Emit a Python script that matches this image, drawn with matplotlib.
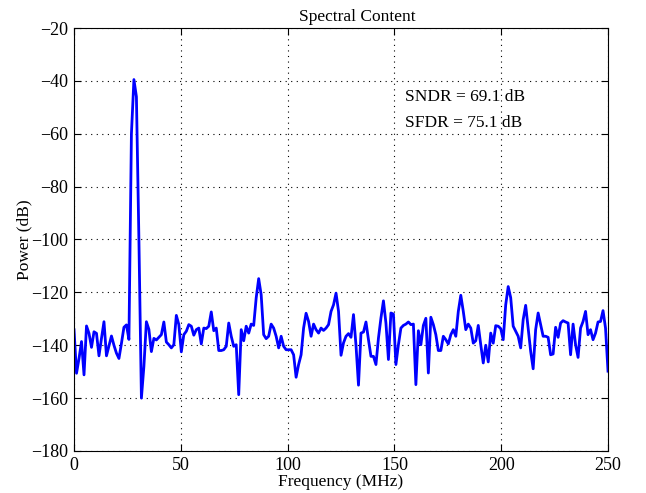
import numpy as np
import matplotlib
matplotlib.use("Agg")
import matplotlib.pyplot as plt

# spectrum, 215 bins from 0 to 250 MHz
power_db = [
    -134.2, -150.6, -145.0, -138.6, -151.2, -132.7, -135.5, -140.8, -134.9, -135.5,
    -144.0, -137.4, -131.1, -144.0, -140.3, -136.5, -140.0, -143.0, -145.0, -139.3,
    -133.2, -132.3, -137.8, -60.0, -39.5, -46.0, -100.0, -160.0, -148.0, -131.1,
    -134.0, -142.4, -137.4, -138.0, -137.0, -136.0, -131.2, -138.8, -139.8, -141.0,
    -139.8, -128.7, -132.2, -142.5, -136.0, -134.7, -132.2, -132.8, -136.2, -134.1,
    -133.5, -139.5, -133.5, -133.7, -132.8, -127.4, -134.5, -133.5, -142.0, -142.0,
    -141.7, -140.4, -131.6, -136.6, -140.4, -139.8, -158.7, -134.1, -138.3, -132.8,
    -135.4, -132.0, -132.5, -122.1, -114.8, -120.9, -136.0, -137.5, -136.6, -132.0,
    -133.5, -136.6, -141.0, -136.6, -140.4, -141.7, -141.7, -141.7, -143.6, -152.1,
    -147.3, -143.6, -133.5, -127.9, -131.0, -136.6, -132.0, -134.1, -135.4, -133.5,
    -134.4, -133.5, -132.2, -127.2, -124.7, -120.3, -127.2, -143.8, -139.1, -136.6,
    -135.6, -137.0, -128.4, -140.0, -155.1, -135.4, -135.0, -131.2, -137.9, -144.2,
    -144.2, -147.3, -137.3, -129.7, -123.2, -131.6, -145.4, -127.8, -128.2, -147.3,
    -139.8, -133.5, -132.5, -132.0, -131.2, -132.2, -132.0, -154.9, -134.5, -139.8,
    -132.5, -129.8, -150.5, -129.4, -132.2, -136.0, -142.0, -142.0, -136.6, -137.9,
    -139.5, -136.0, -134.1, -136.6, -127.2, -121.1, -127.2, -134.1, -132.0, -133.5,
    -139.2, -138.3, -132.5, -139.8, -146.7, -140.0, -146.3, -135.4, -139.2, -132.6,
    -132.8, -133.7, -137.9, -124.7, -117.8, -122.0, -132.8, -134.7, -136.6, -141.0,
    -130.3, -124.9, -133.5, -142.3, -148.9, -134.1, -127.8, -132.2, -136.6, -136.6,
    -137.0, -143.6, -143.3, -133.2, -137.0, -131.6, -130.7, -131.2, -131.6, -143.6,
    -132.0, -139.8, -144.6, -133.5, -131.0, -127.2, -136.0, -134.1, -137.9, -135.4,
    -131.2, -131.0, -126.9, -133.5, -149.8,
]
freq_mhz = np.linspace(0, 250, len(power_db))

sndr = 69.1
sfdr = 75.1

plt.rcParams['font.family'] = ['Liberation Serif', 'DejaVu Serif']

fig = plt.figure(figsize=(6.46, 4.93), dpi=100)
ax = fig.add_axes([0.1146, 0.0852, 0.8266, 0.858])

ax.plot(freq_mhz, power_db, color='#0000ff', linewidth=2)
ax.set_xlim(0, 250)
ax.set_ylim(-180, -20)
ax.set_xticks(np.arange(0, 251, 50))
ax.set_yticks(np.arange(-180, -19, 20))
ax.grid(True, color='k', linestyle=(0, (1, 4)), linewidth=0.8)
ax.tick_params(direction='in', top=True, right=True, length=5, labelsize=13, pad=4)

ax.set_title('Spectral Content', fontsize=12.5, x=0.53, pad=5)
ax.set_xlabel('Frequency (MHz)', fontsize=12.5, labelpad=0)
ax.set_ylabel('Power (dB)', fontsize=12.5, labelpad=-1)

ax.text(155, -46, 'SNDR = %.1f dB' % sndr, fontsize=12.5, va='center')
ax.text(155, -56, 'SFDR = %.1f dB' % sfdr, fontsize=12.5, va='center')

fig.savefig('out.png', dpi=100)
